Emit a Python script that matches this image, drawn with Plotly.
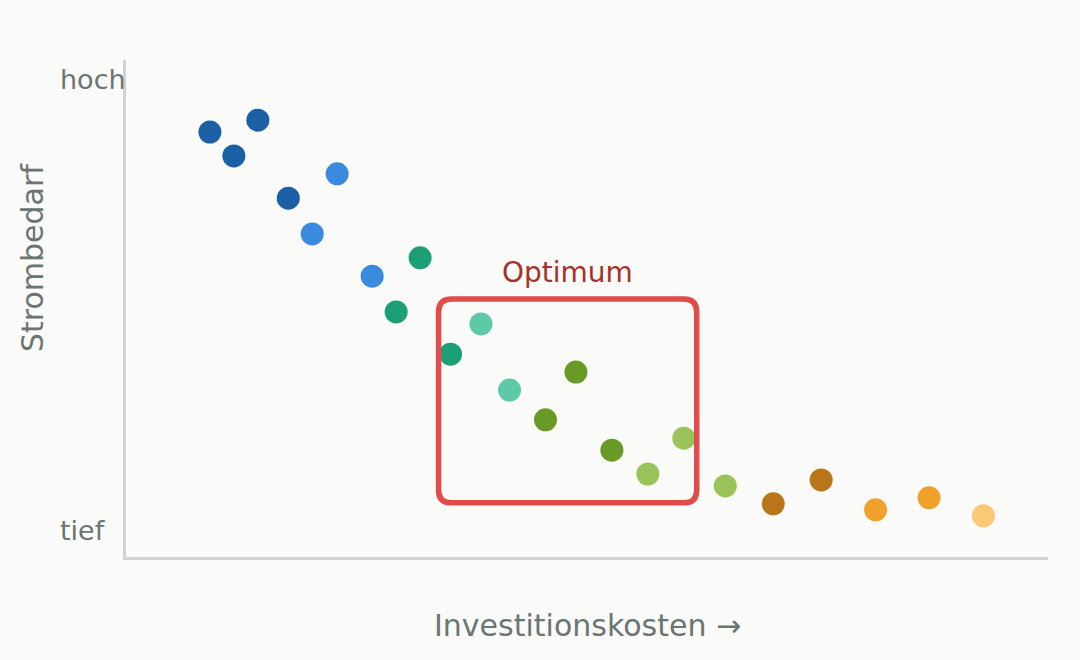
import plotly.graph_objects as go

# Data (x: investment cost 0-100, y: power demand 0-100)
x_vals = [9.1, 11.7, 14.3, 17.6, 22.9, 20.2, 26.7, 31.9, 29.3, 35.2, 38.5, 41.6,
          48.8, 45.5, 52.7, 56.6, 60.5, 65.0, 70.2, 75.4, 81.3, 87.1, 93.0]
y_vals = [85.5, 80.7, 87.9, 72.2, 77.1, 65.0, 56.5, 60.2, 49.3, 40.8, 46.9, 33.6,
          37.2, 27.6, 21.5, 16.7, 23.9, 14.3, 10.7, 15.5, 9.5, 11.9, 8.3]
groups = [0, 0, 0, 0, 1, 1, 1, 2, 2, 2, 3, 3, 4, 4, 4, 5, 5, 5, 6, 6, 7, 7, 8]
group_colors = ["#1b5fa5", "#3a8be0", "#1c9e76", "#5dc9a8", "#689a26",
                "#9ac45a", "#b97618", "#f0a02b", "#fbc878"]

y_tickvals = [96, 5.4]
y_ticktext = ["hoch", "tief"]

opt_x = [33.9, 61.9]
opt_y = [10.9, 51.9]
opt_label = "Optimum"

BG = "#fafaf8"
TXT = "#6b7572"
AXC = "#d0d3d1"

L, R, T, B = 126, 32, 60, 103
W, H = 1080, 660
PW, PH = W - L - R, H - T - B

fig = go.Figure()
fig.add_trace(go.Scatter(
    x=x_vals, y=y_vals, mode="markers",
    marker=dict(size=23, color=[group_colors[g] for g in groups], line=dict(width=0)),
    hoverinfo="skip", showlegend=False,
))

# rounded rectangle path
rx, ry = 1.4, 2.6
x0, x1 = opt_x
y0, y1 = opt_y
path = (f"M {x0+rx},{y1} L {x1-rx},{y1} Q {x1},{y1} {x1},{y1-ry} "
        f"L {x1},{y0+ry} Q {x1},{y0} {x1-rx},{y0} L {x0+rx},{y0} "
        f"Q {x0},{y0} {x0},{y0+ry} L {x0},{y1-ry} Q {x0},{y1} {x0+rx},{y1} Z")
fig.add_shape(type="path", path=path, xref="x", yref="y",
              line=dict(color="#e04b4b", width=5.5), fillcolor="rgba(0,0,0,0)")
fig.add_annotation(x=(x0+x1)/2, y=57.3, xref="x", yref="y", text=opt_label,
                   showarrow=False, font=dict(size=28, color="#a8302a"),
                   yanchor="middle")

# y-axis labels (left aligned, outside plot)
for v, t in zip(y_tickvals, y_ticktext):
    fig.add_annotation(x=(58 - L) / PW, xref="paper", y=v, yref="y", text=t,
                       showarrow=False, xanchor="left", yanchor="middle",
                       font=dict(size=27, color=TXT))

# axis titles
fig.add_annotation(x=0.5, xref="paper", y=(H - B - 625) / PH, yref="paper",
                   text="Investitionskosten →", showarrow=False,
                   xanchor="center", yanchor="middle", font=dict(size=30, color=TXT))
fig.add_annotation(x=(32 - L) / PW, xref="paper", y=(H - B - 258) / PH, yref="paper",
                   text="Strombedarf", showarrow=False, textangle=-90,
                   xanchor="center", yanchor="middle", font=dict(size=30, color=TXT))

fig.update_layout(
    width=W, height=H,
    margin=dict(l=L, r=R, t=T, b=B),
    paper_bgcolor=BG, plot_bgcolor=BG,
    font=dict(family="DejaVu Sans", color=TXT),
    xaxis=dict(range=[0, 100], showgrid=False, zeroline=False, showticklabels=False,
               showline=True, linecolor=AXC, linewidth=2.5),
    yaxis=dict(range=[0, 100], showgrid=False, zeroline=False, showticklabels=False,
               showline=True, linecolor=AXC, linewidth=2.5),
)

fig.write_html("out.html")
